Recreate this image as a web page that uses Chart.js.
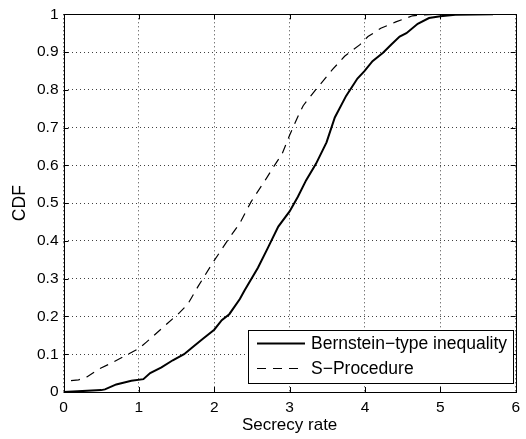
<!DOCTYPE html>
<html>
<head>
<meta charset="utf-8">
<script src="https://cdn.jsdelivr.net/npm/chart.js@4.4.0/dist/chart.umd.min.js"></script>
<style>
  html, body { margin: 0; padding: 0; background: #fff; }
  #wrap { width: 526px; height: 439px; }
</style>
</head>
<body>
<div id="wrap"><canvas id="cdfChart" width="526" height="439"></canvas></div>
<script>
// series (secrecy rate, CDF)
const bernsteinX = [0, 0.5, 0.55, 0.7, 0.9, 1.06, 1.15, 1.3, 1.45, 1.6, 1.72, 1.85, 2.0, 2.1, 2.2, 2.34, 2.4, 2.58, 2.71, 2.85, 3.0, 3.11, 3.22, 3.35, 3.49, 3.6, 3.75, 3.9, 3.99, 4.1, 4.24, 4.35, 4.46, 4.55, 4.7, 4.85, 5.0, 5.2, 5.7];
const bernsteinY = [0, 0.005, 0.007, 0.02, 0.03, 0.034, 0.05, 0.065, 0.084, 0.1, 0.12, 0.141, 0.165, 0.19, 0.206, 0.246, 0.268, 0.329, 0.381, 0.438, 0.478, 0.517, 0.561, 0.604, 0.661, 0.727, 0.784, 0.83, 0.849, 0.876, 0.898, 0.92, 0.941, 0.95, 0.975, 0.99, 0.995, 0.999, 1.0];
const sprocX = [0.1, 0.2, 0.31, 0.48, 0.65, 0.79, 1.0, 1.1, 1.37, 1.54, 1.65, 1.79, 1.98, 2.2, 2.34, 2.49, 2.69, 2.8, 2.9, 3.0, 3.1, 3.18, 3.35, 3.57, 3.73, 3.93, 4.04, 4.21, 4.41, 4.63, 4.9];
const sprocY = [0.03, 0.032, 0.04, 0.062, 0.078, 0.093, 0.115, 0.132, 0.18, 0.21, 0.233, 0.281, 0.342, 0.408, 0.447, 0.504, 0.565, 0.6, 0.63, 0.68, 0.725, 0.758, 0.801, 0.854, 0.889, 0.919, 0.941, 0.963, 0.98, 0.996, 1.0];
const seriesLabels = ['Bernstein\u2212type inequality', 'S\u2212Procedure'];
const xTicks = [0, 1, 2, 3, 4, 5, 6];
const yTicks = [0, 0.1, 0.2, 0.3, 0.4, 0.5, 0.6, 0.7, 0.8, 0.9, 1];

const FONT = 'Liberation Sans, Arial, Helvetica, sans-serif';

const toPts = (xs, ys) => xs.map((x, i) => ({ x: x, y: ys[i] }));

// box, inward ticks on all four sides, and the legend (matlab look)
const matlabBox = {
  id: 'matlabBox',
  afterDraw(chart) {
    const ctx = chart.ctx;
    const a = chart.chartArea;
    const xs = chart.scales.x, ys = chart.scales.y;
    ctx.save();
    ctx.strokeStyle = '#000';
    ctx.lineWidth = 1;
    ctx.strokeRect(Math.round(a.left) + 0.5, Math.round(a.top) + 0.5,
      Math.round(a.right - a.left), Math.round(a.bottom - a.top));
    const tl = 5;
    ctx.beginPath();
    xTicks.forEach(v => {
      const px = Math.round(xs.getPixelForValue(v)) + 0.5;
      ctx.moveTo(px, a.bottom); ctx.lineTo(px, a.bottom - tl);
      ctx.moveTo(px, a.top); ctx.lineTo(px, a.top + tl);
    });
    yTicks.forEach(v => {
      const py = Math.round(ys.getPixelForValue(v)) + 0.5;
      ctx.moveTo(a.left, py); ctx.lineTo(a.left + tl, py);
      ctx.moveTo(a.right, py); ctx.lineTo(a.right - tl, py);
    });
    ctx.stroke();

    // legend box in lower right
    const lx = 248, ly = 330, lw = 265, lh = 53;
    ctx.fillStyle = '#fff';
    ctx.fillRect(lx, ly, lw, lh);
    ctx.strokeRect(lx + 0.5, ly + 0.5, lw, lh);
    ctx.font = '17.5px ' + FONT;
    ctx.textBaseline = 'middle';
    ctx.textAlign = 'left';
    chart.data.datasets.forEach((ds, i) => {
      const yy = ly + 13.5 + i * 25;
      ctx.beginPath();
      ctx.setLineDash(ds.borderDash || []);
      ctx.lineWidth = ds.borderWidth;
      ctx.moveTo(257, yy); ctx.lineTo(305, yy);
      ctx.stroke();
      ctx.setLineDash([]);
      ctx.fillStyle = '#000';
      ctx.fillText(ds.label, 311, yy + 1);
    });
    ctx.restore();
  }
};

const gridOpts = { color: 'rgba(0,0,0,0.75)', drawTicks: false, lineWidth: 1 };
const borderOpts = { display: false, dash: [1, 3] };

new Chart(document.getElementById('cdfChart'), {
  type: 'scatter',
  data: {
    datasets: [
      {
        label: seriesLabels[0],
        data: toPts(bernsteinX, bernsteinY),
        showLine: true,
        borderColor: '#000',
        borderWidth: 2,
        pointRadius: 0,
        tension: 0
      },
      {
        label: seriesLabels[1],
        data: toPts(sprocX, sprocY),
        showLine: true,
        borderColor: '#000',
        borderWidth: 1.2,
        borderDash: [9, 7],
        pointRadius: 0,
        tension: 0
      }
    ]
  },
  options: {
    responsive: false,
    animation: false,
    layout: { padding: { top: 11, right: 10, left: 0, bottom: 0 } },
    plugins: { legend: { display: false }, tooltip: { enabled: false } },
    scales: {
      x: {
        type: 'linear',
        min: 0, max: 6,
        afterBuildTicks: s => { s.ticks = xTicks.map(v => ({ value: v })); },
        afterFit: s => { s.height = 47; },
        grid: gridOpts,
        border: borderOpts,
        ticks: { color: '#000', font: { family: FONT, size: 15.5 }, padding: 6, maxRotation: 0, callback: v => String(v) },
        title: { display: true, text: 'Secrecy rate', color: '#000', font: { family: FONT, size: 17 }, padding: { top: 0, bottom: 3 } }
      },
      y: {
        type: 'linear',
        min: 0, max: 1,
        afterBuildTicks: s => { s.ticks = yTicks.map(v => ({ value: v })); },
        afterFit: s => { s.width = 63.5; },
        grid: gridOpts,
        border: borderOpts,
        ticks: { color: '#000', font: { family: FONT, size: 15.5 }, padding: 5, callback: v => String(v) },
        title: { display: true, text: 'CDF', color: '#000', font: { family: FONT, size: 17.5 }, padding: { top: 9.5, bottom: 0 } }
      }
    }
  },
  plugins: [matlabBox]
});
</script>
</body>
</html>
